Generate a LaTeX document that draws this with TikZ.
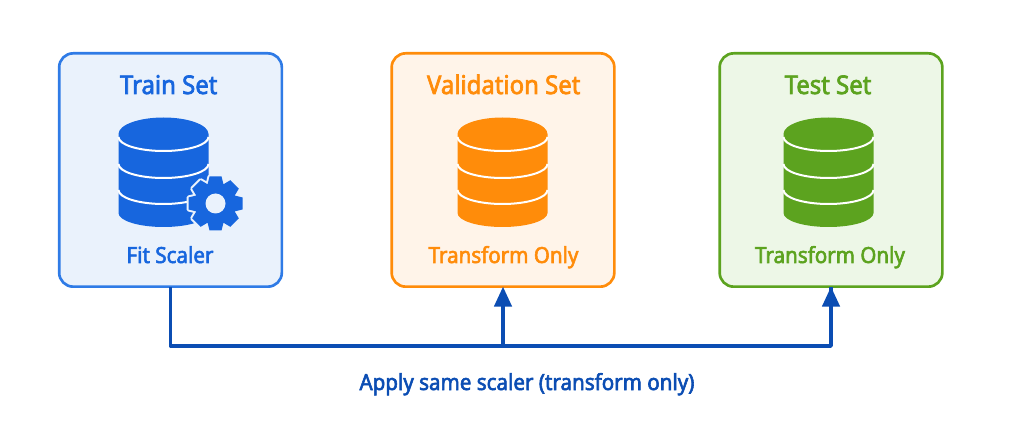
\documentclass[tikz,border=0pt]{standalone}
\usepackage{fontspec}
\setmainfont[FakeStretch=0.93,FakeBold=2.6]{Noto Sans}
\usetikzlibrary{arrows.meta}

\definecolor{trainblue}{HTML}{1766DE}
\definecolor{trainedge}{HTML}{2F7BE6}
\definecolor{trainfill}{HTML}{EAF2FC}
\definecolor{valorange}{HTML}{FF8C0A}
\definecolor{valfill}{HTML}{FFF4E9}
\definecolor{testgreen}{HTML}{5CA31F}
\definecolor{testfill}{HTML}{EDF7E7}
\definecolor{linkblue}{HTML}{0B4DB3}

\tikzset{
  setbox/.style={rounded corners=10.5pt,line width=2pt,minimum width=167pt,minimum height=175pt,outer sep=0pt},
  settitle/.style={anchor=base,font=\fontsize{19.3}{23}\selectfont},
  setnote/.style={anchor=base,font=\fontsize{16.6}{20}\selectfont},
  link/.style={color=linkblue,line width=2.7pt},
}

% database icon: x centre, colour
\newcommand{\dbicon}[2]{
\fill[#2] (#1-45,305) arc[start angle=180,end angle=0,x radius=45,y radius=16.5]
  -- (#1+45,226) arc[start angle=0,end angle=-180,x radius=45,y radius=14] -- cycle;
\foreach \ytop in {302,275,249} {
  \draw[white,line width=1.5pt] (#1-45,\ytop) arc[start angle=180,end angle=360,x radius=45,y radius=14];
}
}

\begin{document}
\begin{tikzpicture}[x=0.75pt,y=0.75pt]
\useasboundingbox (0,0) rectangle (1024,439);

\node[setbox,draw=trainedge,fill=trainfill] (train) at (170.5,269) {};
\node[setbox,draw=valorange,fill=valfill] (val) at (503,269) {};
\node[setbox,draw=testgreen,fill=testfill] (test) at (831,269) {};

\node[settitle,text=trainblue] (traintitle) at (168.7,345) {Train Set};
\node[settitle,text=valorange] (valtitle) at (503.7,345) {Validation Set};
\node[settitle,text=testgreen] (testtitle) at (828,345) {Test Set};

\dbicon{163.5}{trainblue}
\dbicon{502.5}{valorange}
\dbicon{828.5}{testgreen}

% gear on the train set
\begin{scope}[shift={(215.5,235.5)}]
\foreach \a in {0,45,...,315} {
  \draw[trainfill,line width=3pt,line join=round,rotate=\a] (-8.5,17) -- (-6,27) -- (6,27) -- (8.5,17) -- cycle;
}
\draw[trainfill,line width=3pt] (0,0) circle (21);
\foreach \a in {0,45,...,315} {
  \fill[trainblue,rotate=\a] (-8.5,17) -- (-6,27) -- (6,27) -- (8.5,17) -- cycle;
}
\fill[trainblue] (0,0) circle (21);
\fill[trainfill] (0,0) circle (10);
\end{scope}

\node[setnote,text=trainblue] (trainnote) at (170,176) {Fit Scaler};
\node[setnote,text=valorange] (valnote) at (503.5,176) {Transform Only};
\node[setnote,text=testgreen] (testnote) at (830,176) {Transform Only};

\coordinate (bus) at (503,93);
\draw[link,line join=round] (train.south) -- (train.south |- bus) -- (test.south |- bus) -- (test.south);
\draw[link,-{Triangle[length=15pt,width=13pt]}] (val.south |- bus) -- (val.south);
\draw[link,-{Triangle[length=15pt,width=13pt]}] (test.south |- bus) -- (test.south);

\node[setnote,text=linkblue] (caption) at (527,49) {Apply same scaler (transform only)};
\end{tikzpicture}
\end{document}
